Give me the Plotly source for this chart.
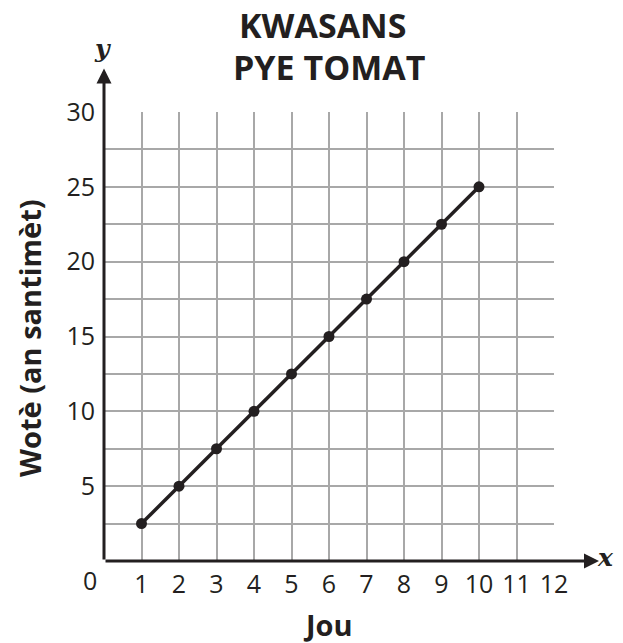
import plotly.graph_objects as go

days = [1, 2, 3, 4, 5, 6, 7, 8, 9, 10]
height_cm = [2.5, 5, 7.5, 10, 12.5, 15, 17.5, 20, 22.5, 25]
x_ticks = list(range(1, 13))
y_ticks = [5, 10, 15, 20, 25, 30]
title_lines = ["KWASANS", "PYE TOMAT"]

FONT = "Open Sans"
INK = "#231f20"
GRID = "#a8a8a8"

fig = go.Figure()
fig.add_trace(go.Scatter(
    x=days, y=height_cm, mode="lines+markers",
    line=dict(color=INK, width=3.5),
    marker=dict(color=INK, size=11),
    cliponaxis=False, showlegend=False,
))

fig.update_layout(
    width=615, height=635,
    margin=dict(l=96, r=69, t=104, b=82),
    paper_bgcolor="white", plot_bgcolor="white",
    font=dict(family=FONT, color=INK, size=25),
    xaxis=dict(range=[0, 12], tickvals=x_ticks, showgrid=True, gridcolor=GRID, gridwidth=1.5,
               zeroline=False, showline=False, ticks="", ticklabelstandoff=6),
    yaxis=dict(range=[0, 30], tickvals=y_ticks, showgrid=True, gridcolor=GRID, gridwidth=1.5,
               minor=dict(dtick=2.5, showgrid=True, gridcolor=GRID, gridwidth=1.5),
               zeroline=False, showline=False, ticks="", ticklabelstandoff=8),
)

def label(x, y, text, size, family=FONT, angle=0, height=None):
    fig.add_annotation(x=x, y=y, xref="paper", yref="paper", text=text, showarrow=False,
                       xanchor="center", yanchor="middle", textangle=angle, height=height,
                       borderpad=0,
                       font=dict(family=family, size=size, color=INK))

# title
label(0.4856, 1.194, "<b>%s</b>" % title_lines[0], 34, height=30)
label(0.502, 1.100, "<b>%s</b>" % title_lines[1], 34, height=30)
# axis titles
label(0.498, -0.142, "<b>Jou</b>", 29)
label(-0.164, 0.497, "<b>Wotè (an santimèt)</b>", 29, angle=-90)

# axes with arrows
fig.add_annotation(x=13.2, y=0, ax=0, ay=0, xref="x", yref="y", axref="x", ayref="y",
                   showarrow=True, arrowhead=2, arrowsize=1, arrowwidth=3, arrowcolor=INK, text="")
fig.add_annotation(x=0, y=32.9, ax=0, ay=0, xref="x", yref="y", axref="x", ayref="y",
                   showarrow=True, arrowhead=2, arrowsize=1, arrowwidth=3, arrowcolor=INK, text="")
label(1.115, 0.008, "<b><i>x</i></b>", 25, family="DejaVu Serif")
label(-0.004, 1.1425, "<b><i>y</i></b>", 25, family="DejaVu Serif")
fig.add_annotation(x=0, y=0, xref="x", yref="y", text="0", showarrow=False,
                   xanchor="center", yanchor="middle",
                   xshift=-14, yshift=-19, font=dict(size=25, color=INK))

fig.write_html("out.html")
